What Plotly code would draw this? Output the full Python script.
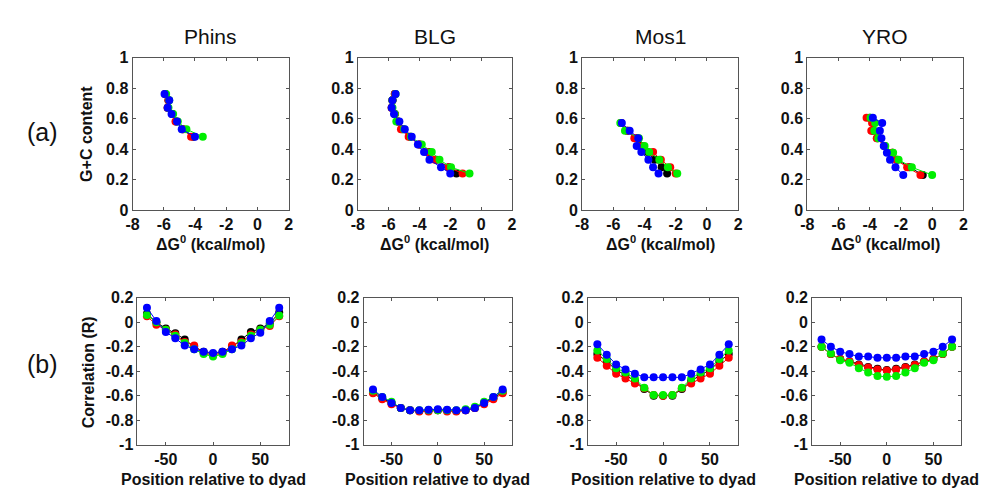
import plotly.graph_objects as go

W, H = 990, 490

panels = ["Phins", "BLG", "Mos1", "YRO"]
series_names = ["black", "red", "green", "blue"]
series_colors = ["#000000", "#ff0000", "#00ee00", "#0000ff"]

# ---- Row (a): G+C content vs dG0 ----
phins_gc = [0.76, 0.72, 0.67, 0.63, 0.58, 0.53, 0.48]
phins_dg_black = [-5.9, -5.7, -5.75, -5.45, -5.2, -4.8, -4.1]
phins_dg_red = [-5.9, -5.7, -5.75, -5.45, -5.25, -4.75, -4.25]
phins_dg_green = [-5.85, -5.65, -5.7, -5.4, -5.1, -4.55, -3.5]
phins_dg_blue = [-5.95, -5.65, -5.75, -5.5, -5.15, -4.85, -4.0]

blg_gc = [0.76, 0.72, 0.67, 0.63, 0.58, 0.53, 0.48, 0.43, 0.38, 0.33, 0.28, 0.24]
blg_dg_black = [-5.6, -5.75, -5.8, -5.6, -5.4, -5.1, -4.6, -4.0, -3.4, -2.9, -2.1, -1.6]
blg_dg_red = [-5.6, -5.75, -5.8, -5.6, -5.4, -5.2, -4.7, -4.0, -3.5, -3.0, -2.1, -1.2]
blg_dg_green = [-5.55, -5.75, -5.75, -5.6, -5.5, -5.0, -4.55, -3.85, -3.2, -2.7, -1.95, -0.75]
blg_dg_blue = [-5.55, -5.75, -5.8, -5.65, -5.3, -4.95, -4.5, -4.1, -3.7, -3.35, -2.6, -2.0]

mos1_gc = [0.57, 0.52, 0.47, 0.42, 0.38, 0.33, 0.28, 0.24]
mos1_dg_black = [-5.5, -5.1, -4.5, -4.25, -3.8, -3.35, -2.9, -2.55]
mos1_dg_red = [-5.5, -5.1, -4.65, -4.1, -3.45, -2.95, -2.35, -2.0]
mos1_dg_green = [-5.55, -5.25, -4.35, -4.0, -3.7, -3.05, -2.5, -1.9]
mos1_dg_blue = [-5.45, -4.95, -4.4, -4.5, -4.2, -3.75, -3.45, -3.1]

yro_gc = [0.605, 0.57, 0.52, 0.47, 0.42, 0.375, 0.33, 0.28, 0.23]
yro_dg_black = [-4.0, -3.75, -3.8, -3.5, -3.05, -2.55, -2.25, -1.45, -0.6]
yro_dg_red = [-4.2, -3.85, -3.9, -3.55, -3.05, -2.55, -2.3, -1.6, -0.75]
yro_dg_green = [-3.95, -3.65, -3.7, -3.45, -3.0, -2.5, -2.15, -1.3, 0.0]
yro_dg_blue = [-3.8, -3.2, -3.35, -3.25, -3.1, -2.9, -2.7, -2.35, -1.85]

# ---- Row (b): correlation vs position ----
positions = [-70, -60, -50, -40, -30, -20, -10, 0, 10, 20, 30, 40, 50, 60, 70]

phins_r_black = [0.07, 0.0, -0.05, -0.09, -0.14, -0.2, -0.24, -0.26, -0.24, -0.2, -0.14, -0.08, -0.05, -0.01, 0.08]
phins_r_red = [0.05, -0.02, -0.06, -0.1, -0.16, -0.19, -0.25, -0.27, -0.25, -0.19, -0.16, -0.1, -0.06, -0.03, 0.05]
phins_r_green = [0.06, 0.0, -0.06, -0.11, -0.17, -0.22, -0.26, -0.28, -0.26, -0.22, -0.17, -0.11, -0.06, -0.02, 0.055]
phins_r_blue = [0.12, 0.01, -0.08, -0.13, -0.19, -0.22, -0.24, -0.25, -0.24, -0.22, -0.19, -0.13, -0.085, 0.01, 0.12]

blg_r_black = [-0.57, -0.62, -0.66, -0.70, -0.72, -0.725, -0.72, -0.72, -0.72, -0.725, -0.72, -0.70, -0.66, -0.62, -0.57]
blg_r_red = [-0.58, -0.63, -0.67, -0.70, -0.72, -0.73, -0.73, -0.72, -0.73, -0.73, -0.72, -0.70, -0.67, -0.63, -0.58]
blg_r_green = [-0.56, -0.61, -0.65, -0.70, -0.72, -0.72, -0.72, -0.72, -0.72, -0.72, -0.71, -0.69, -0.65, -0.61, -0.56]
blg_r_blue = [-0.55, -0.61, -0.66, -0.70, -0.72, -0.72, -0.715, -0.71, -0.715, -0.72, -0.72, -0.70, -0.66, -0.61, -0.55]

mos1_r_black = [-0.26, -0.32, -0.39, -0.43, -0.48, -0.545, -0.60, -0.60, -0.60, -0.545, -0.48, -0.43, -0.39, -0.32, -0.26]
mos1_r_red = [-0.29, -0.355, -0.42, -0.46, -0.50, -0.54, -0.595, -0.60, -0.595, -0.54, -0.50, -0.46, -0.42, -0.355, -0.29]
mos1_r_green = [-0.23, -0.30, -0.375, -0.41, -0.46, -0.535, -0.595, -0.595, -0.595, -0.535, -0.46, -0.41, -0.375, -0.30, -0.23]
mos1_r_blue = [-0.18, -0.265, -0.345, -0.385, -0.42, -0.45, -0.45, -0.45, -0.45, -0.45, -0.42, -0.385, -0.345, -0.265, -0.18]

yro_r_black = [-0.20, -0.26, -0.30, -0.32, -0.345, -0.365, -0.38, -0.39, -0.38, -0.365, -0.345, -0.32, -0.30, -0.26, -0.20]
yro_r_red = [-0.20, -0.26, -0.30, -0.32, -0.35, -0.37, -0.385, -0.395, -0.385, -0.37, -0.35, -0.32, -0.30, -0.26, -0.20]
yro_r_green = [-0.20, -0.255, -0.31, -0.33, -0.375, -0.41, -0.44, -0.445, -0.44, -0.41, -0.375, -0.33, -0.31, -0.255, -0.20]
yro_r_blue = [-0.14, -0.20, -0.24, -0.26, -0.28, -0.28, -0.29, -0.29, -0.29, -0.28, -0.28, -0.26, -0.24, -0.20, -0.14]

top_x = [
    [phins_dg_black, phins_dg_red, phins_dg_green, phins_dg_blue],
    [blg_dg_black, blg_dg_red, blg_dg_green, blg_dg_blue],
    [mos1_dg_black, mos1_dg_red, mos1_dg_green, mos1_dg_blue],
    [yro_dg_black, yro_dg_red, yro_dg_green, yro_dg_blue],
]
top_y = [phins_gc, blg_gc, mos1_gc, yro_gc]
bot_y = [
    [phins_r_black, phins_r_red, phins_r_green, phins_r_blue],
    [blg_r_black, blg_r_red, blg_r_green, blg_r_blue],
    [mos1_r_black, mos1_r_red, mos1_r_green, mos1_r_blue],
    [yro_r_black, yro_r_red, yro_r_green, yro_r_blue],
]

top_dg_ticks = [-8, -6, -4, -2, 0, 2]
top_dg_labels = ["-8", "-6", "-4", "-2", "0", "2"]
top_gc_ticks = [0, 0.2, 0.4, 0.6, 0.8, 1]
top_gc_labels = ["0", "0.2", "0.4", "0.6", "0.8", "1"]
bot_pos_ticks = [-50, 0, 50]
bot_pos_labels = ["-50", "0", "50"]
bot_r_ticks = [-1, -0.8, -0.6, -0.4, -0.2, 0, 0.2]
bot_r_labels = ["-1", "-0.8", "-0.6", "-0.4", "-0.2", "0", "0.2"]

# layout geometry in pixels
top_px = [(119, 277), (347, 503), (574, 732), (802, 960)]
bot_px = [(124, 277), (353, 503), (580, 732), (807, 958)]
top_py = (43, 201)
bot_py = (292, 444)

FONT = "Liberation Sans, Arial, Helvetica, sans-serif"
tickfont = dict(family=FONT, size=16, color="#111111", weight="bold")
labfont = dict(family=FONT, size=16, color="#111111", weight="bold")

fig = go.Figure()
layout = dict(
    width=W, height=H,
    margin=dict(l=0, r=0, t=0, b=0),
    paper_bgcolor="white", plot_bgcolor="white",
    showlegend=False,
)

def xd(px):
    return [px[0] / W, px[1] / W]

def yd(py):
    return [1 - py[1] / H, 1 - py[0] / H]

axis_common = dict(
    showline=True, linecolor="#555555", linewidth=1, mirror="ticks",
    ticks="inside", ticklen=3, tickcolor="#555555", showgrid=False,
    zeroline=False, tickfont=tickfont,
)

annotations = []
for i in range(4):
    # top panel
    n = 2 * i + 1
    xa = "x" if n == 1 else f"x{n}"
    ya = "y" if n == 1 else f"y{n}"
    for s in range(4):
        fig.add_trace(go.Scatter(
            x=top_x[i][s], y=top_y[i], mode="lines+markers",
            line=dict(color=series_colors[s], width=1),
            marker=dict(color=series_colors[s], size=8),
            xaxis=xa, yaxis=ya, name=series_names[s],
        ))
    layout["xaxis" if n == 1 else f"xaxis{n}"] = dict(
        axis_common, domain=xd(top_px[i]), range=[-8, 2],
        tickvals=top_dg_ticks, ticktext=top_dg_labels, anchor=ya)
    layout["yaxis" if n == 1 else f"yaxis{n}"] = dict(
        axis_common, domain=yd(top_py), range=[0, 1],
        tickvals=top_gc_ticks, ticktext=top_gc_labels, anchor=xa)
    # bottom panel
    m = 2 * i + 2
    xb = f"x{m}"
    yb = f"y{m}"
    for s in range(4):
        fig.add_trace(go.Scatter(
            x=positions, y=bot_y[i][s], mode="lines+markers",
            line=dict(color=series_colors[s], width=1),
            marker=dict(color=series_colors[s], size=8),
            xaxis=xb, yaxis=yb, name=series_names[s],
        ))
    layout[f"xaxis{m}"] = dict(
        axis_common, domain=xd(bot_px[i]), range=[-80, 80],
        tickvals=bot_pos_ticks, ticktext=bot_pos_labels, anchor=yb)
    layout[f"yaxis{m}"] = dict(
        axis_common, domain=yd(bot_py), range=[-1, 0.2],
        tickvals=bot_r_ticks, ticktext=bot_r_labels, anchor=xb)

    # panel titles
    cx = (top_px[i][0] + top_px[i][1]) / 2
    annotations.append(dict(
        text=panels[i], x=cx / W, y=1 - 21 / H, xref="paper", yref="paper",
        showarrow=False, xanchor="center", yanchor="middle",
        font=dict(family=FONT, size=21, color="#111111")))
    # x titles
    annotations.append(dict(
        text="ΔG<sup>0</sup> (kcal/mol)", x=cx / W, y=1 - 235 / H,
        xref="paper", yref="paper", showarrow=False,
        xanchor="center", yanchor="middle", font=labfont))
    cxb = (bot_px[i][0] + bot_px[i][1]) / 2
    annotations.append(dict(
        text="Position relative to dyad", x=cxb / W, y=1 - 480 / H,
        xref="paper", yref="paper", showarrow=False,
        xanchor="center", yanchor="middle", font=labfont))

annotations.append(dict(
    text="G+C content", x=73 / W, y=1 - 122 / H, xref="paper", yref="paper",
    showarrow=False, textangle=-90, xanchor="center", yanchor="middle",
    font=labfont))
annotations.append(dict(
    text="Correlation (R)", x=74 / W, y=1 - 369 / H, xref="paper", yref="paper",
    showarrow=False, textangle=-90, xanchor="center", yanchor="middle",
    font=labfont))
annotations.append(dict(
    text="(a)", x=28 / W, y=1 - 120 / H, xref="paper", yref="paper",
    showarrow=False, xanchor="center", yanchor="middle",
    font=dict(family=FONT, size=25, color="#111111")))
annotations.append(dict(
    text="(b)", x=28 / W, y=1 - 360 / H, xref="paper", yref="paper",
    showarrow=False, xanchor="center", yanchor="middle",
    font=dict(family=FONT, size=25, color="#111111")))

layout["annotations"] = annotations
fig.update_layout(**layout)
fig.write_html("out.html")
